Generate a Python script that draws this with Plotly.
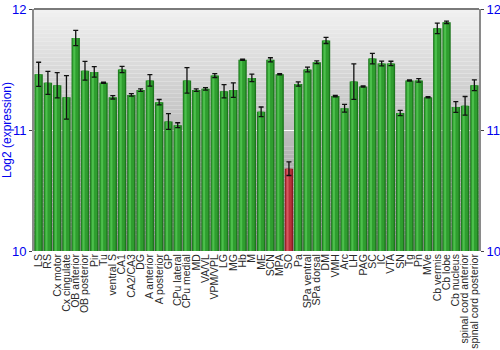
import plotly.graph_objects as go

regions = ["LS", "RS", "Cx motor", "Cx cingulate", "OB anterior", "OB posterior", "Pir", "Tu",
           "ventral S", "CA1", "CA2/CA3", "DG", "A anterior", "A posterior", "GP", "CPu lateral",
           "CPu medial", "MD", "VA/VL", "VPM/VPL", "LG", "MG", "Hb", "M", "ME", "SCN", "MPA", "SO",
           "Pa", "SPa ventral", "SPa dorsal", "DM", "VMH", "Arc", "LH", "PAG", "SC", "IC", "VTA",
           "SN", "Tg", "Pn", "MVe", "Cb vermis", "Cb lobe", "Cb nucleus",
           "spinal cord anterior", "spinal cord posterior"]
values = [11.46, 11.39, 11.37, 11.27, 11.76, 11.49, 11.48, 11.39,
          11.27, 11.50, 11.29, 11.33, 11.41, 11.23, 11.07, 11.04,
          11.41, 11.33, 11.34, 11.45, 11.32, 11.33, 11.58, 11.43, 11.15, 11.58, 11.46, 10.68,
          11.38, 11.50, 11.56, 11.74, 11.28, 11.18, 11.40, 11.36, 11.59, 11.55, 11.55,
          11.14, 11.41, 11.41, 11.27, 11.84, 11.89, 11.19,
          11.20, 11.37]
errors = [0.10, 0.095, 0.105, 0.18, 0.063, 0.077, 0.043, 0.005,
          0.014, 0.025, 0.01, 0.01, 0.047, 0.022, 0.065, 0.02,
          0.106, 0.01, 0.01, 0.016, 0.055, 0.06, 0.005, 0.031, 0.04, 0.017, 0.005, 0.056,
          0.017, 0.02, 0.012, 0.025, 0.005, 0.032, 0.147, 0.005, 0.044, 0.02, 0.018,
          0.022, 0.005, 0.014, 0.005, 0.044, 0.01, 0.045,
          0.077, 0.045]
highlight = ["SO"]
y_ticks = [10, 11, 12]

base_col = ["#8a1a22" if r in highlight else "#1d761d" for r in regions]
mid_col = ["#b8323a" if r in highlight else "#2f9e2f" for r in regions]
hi_col = ["#d45a60" if r in highlight else "#4cbf4c" for r in regions]

fig = go.Figure()
fig.add_bar(x=regions, y=values, width=0.9, marker=dict(color=base_col, line=dict(width=0)),
            hoverinfo="skip")
fig.add_bar(x=regions, y=values, width=0.66, offset=-0.36, marker=dict(color=mid_col, line=dict(width=0)),
            hoverinfo="skip")
fig.add_bar(x=regions, y=values, width=0.22, offset=-0.26, marker=dict(color=hi_col, line=dict(width=0)),
            hoverinfo="skip")
fig.add_scatter(x=regions, y=values, mode="markers", marker=dict(size=0.1, color="rgba(0,0,0,0)"),
                error_y=dict(type="data", array=errors, color="#111111", thickness=1.3, width=2.5),
                showlegend=False, hoverinfo="skip")
fig.add_scatter(x=regions, y=values, mode="markers", marker=dict(size=0.1, color="rgba(0,0,0,0)"),
                yaxis="y2", showlegend=False, hoverinfo="skip")

# background vertical gradient
shapes = []
n = 60
for i in range(n):
    t = i / n
    c = int(140 + (242 - 140) * (t + 0.5 / n))
    shapes.append(dict(type="rect", xref="paper", yref="paper", x0=0, x1=1, y0=t, y1=(i + 1) / n,
                       fillcolor=f"rgb({c},{c},{c})", line=dict(width=0), layer="below"))
shapes.append(dict(type="line", xref="paper", yref="paper", x0=0, x1=1, y0=1, y1=1,
                   line=dict(color="#7a7a7a", width=2)))

fig.update_layout(
    width=500, height=350,
    margin=dict(l=34, r=21, t=9, b=99),
    paper_bgcolor="white", plot_bgcolor="rgba(0,0,0,0)",
    barmode="overlay", bargap=0.1, showlegend=False,
    shapes=shapes,
    font=dict(family="Liberation Sans, Arial, sans-serif"),
    xaxis=dict(tickangle=-90, tickfont=dict(size=10.5, color="#2a2a2a"), showgrid=False,
               tickmode="array", tickvals=regions, ticktext=regions, automargin=False,
               ticks="", ticklabelstandoff=0, showline=False, range=[-0.5, len(regions) - 0.5]),
    yaxis=dict(range=[10, 12], tickvals=y_ticks, tickfont=dict(size=13, color="#0000ee"),
               ticks="outside", ticklen=3, tickcolor="#444", showline=True, linecolor="#8a8a8a",
               linewidth=2, showgrid=True, gridcolor="white", gridwidth=1, zeroline=False,
               automargin=False,
               title=dict(text="Log2 (expression)", font=dict(size=12, color="#0000ee"), standoff=2)),
    yaxis2=dict(range=[10, 12], tickvals=y_ticks, overlaying="y", side="right", automargin=False,
                tickfont=dict(size=13, color="#0000ee"), ticks="outside", ticklen=3, tickcolor="#444",
                showline=True, linecolor="#8a8a8a", linewidth=2, showgrid=False, zeroline=False),
)

fig.write_html("out.html")
